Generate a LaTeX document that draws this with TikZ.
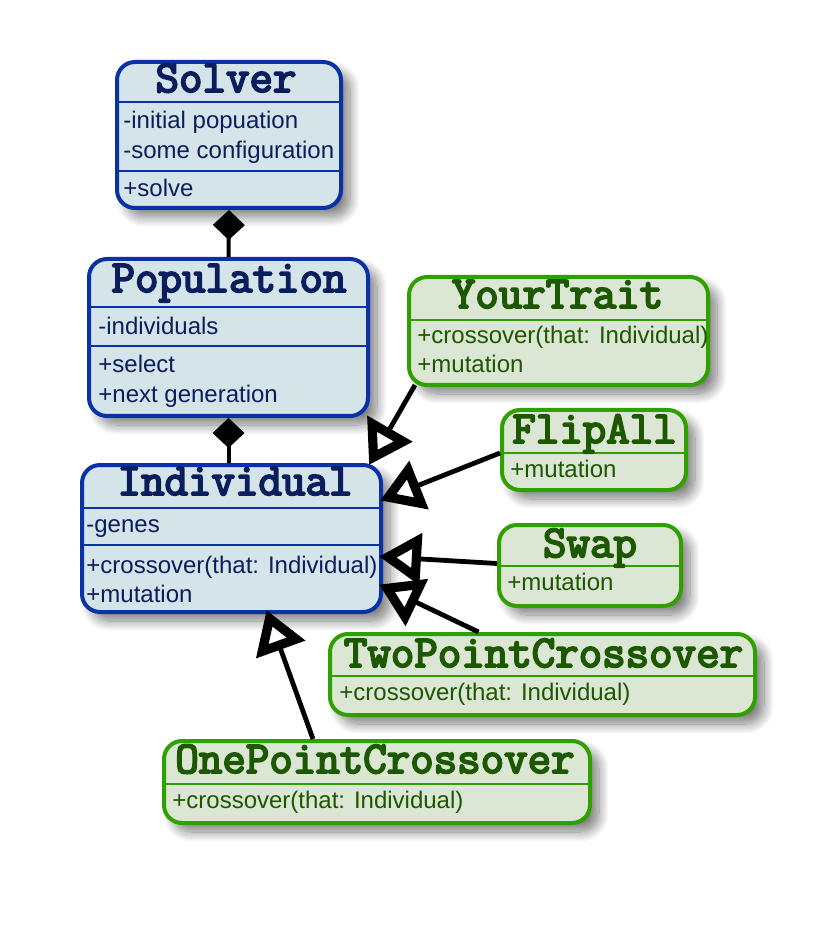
\documentclass[tikz,border=0pt]{standalone}
\usepackage{fontspec}
\setmainfont{Liberation Sans}
\newfontfamily\umlmono{Latin Modern Mono}[FakeBold=4.2]
\usepackage{xcolor}
\usepackage{tikz}
\usetikzlibrary{arrows.meta,shadows.blur}

\definecolor{clsline}{HTML}{0A32A8}
\definecolor{clsfill}{HTML}{D4E4E8}
\definecolor{clstext}{HTML}{0A1E5E}
\definecolor{trline}{HTML}{30A000}
\definecolor{trfill}{HTML}{DCE6D4}
\definecolor{trtext}{HTML}{1C5800}

\tikzset{
  cls/.style={draw=clsline,fill=clsfill,line width=2pt,rounded corners=9pt,inner sep=0pt,
    blur shadow={shadow xshift=4.5pt,shadow yshift=-4.5pt,shadow blur radius=5pt,shadow blur steps=12,shadow opacity=50}},
  trait/.style={cls,draw=trline,fill=trfill},
  ctitle/.style={anchor=base,inner sep=0pt,text=clstext,font=\umlmono\fontsize{22.8}{26}\selectfont},
  ttitle/.style={ctitle,text=trtext},
  cmember/.style={anchor=base west,inner sep=0pt,text=clstext,font=\fontsize{12}{14}\selectfont},
  tmember/.style={cmember,text=trtext},
  csep/.style={draw=clsline,line width=1pt},
  tsep/.style={draw=trline,line width=1pt},
  inherit/.style={line width=2.4pt,-{Triangle[length=21pt,width=25pt,line width=4.6pt,fill=white]}},
  compose/.style={line width=2pt,-{Diamond[length=15pt,width=16pt]}},
}

\begin{document}
\begin{tikzpicture}[x=0.5pt,y=-0.5pt]
\useasboundingbox (0,0) rectangle (825,929);

% blue classes
\node[cls,minimum width=112pt,minimum height=73pt] (solver) at (229,135) {};
\draw[csep] (solver.west |- 0,102) -- (solver.east |- 0,102);
\draw[csep] (solver.west |- 0,171) -- (solver.east |- 0,171);
\node[ctitle] (solver-t) at (226,92) {Solver};
\node[cmember] (solver-a1) at (123,129) {-initial popuation};
\node[cmember] (solver-a2) at (123,159) {-some configuration};
\node[cmember] (solver-m1) at (123,197) {+solve};

\node[cls,minimum width=139.5pt,minimum height=78.5pt] (population) at (228.5,337.5) {};
\draw[csep] (population.west |- 0,307) -- (population.east |- 0,307);
\draw[csep] (population.west |- 0,346) -- (population.east |- 0,346);
\node[ctitle] (population-t) at (229,292) {Population};
\node[cmember] (population-a1) at (98,335) {-individuals};
\node[cmember] (population-m1) at (98,373) {+select};
\node[cmember] (population-m2) at (98,403) {+next generation};

\node[cls,minimum width=149.5pt,minimum height=73.5pt] (indiv) at (231.5,538.5) {};
\draw[csep] (indiv.west |- 0,508) -- (indiv.east |- 0,508);
\draw[csep] (indiv.west |- 0,545) -- (indiv.east |- 0,545);
\node[ctitle] (indiv-t) at (235,495) {Individual};
\node[cmember] (indiv-a1) at (86,532) {-genes};
\node[cmember] (indiv-m1) at (86,573) {+crossover(that: Individual)};
\node[cmember] (indiv-m2) at (86,602) {+mutation};

% green traits
\node[trait,minimum width=149.5pt,minimum height=54pt] (yourtrait) at (558.5,331) {};
\draw[tsep] (yourtrait.west |- 0,320) -- (yourtrait.east |- 0,320);
\node[ttitle] (yourtrait-t) at (557.5,308) {YourTrait};
\node[tmember] (yourtrait-m1) at (417,344) {+crossover(that: Individual)};
\node[tmember] (yourtrait-m2) at (417,373) {+mutation};

\node[trait,minimum width=92pt,minimum height=40pt] (flipall) at (594,450) {};
\draw[tsep] (flipall.west |- 0,453) -- (flipall.east |- 0,453);
\node[ttitle] (flipall-t) at (594.5,443) {FlipAll};
\node[tmember] (flipall-m1) at (510,477) {+mutation};

\node[trait,minimum width=91pt,minimum height=40.5pt] (swap) at (590,565.5) {};
\draw[tsep] (swap.west |- 0,566) -- (swap.east |- 0,566);
\node[ttitle] (swap-t) at (590,557) {Swap};
\node[tmember] (swap-m1) at (507,590) {+mutation};

\node[trait,minimum width=212.5pt,minimum height=40.5pt] (twopoint) at (542.5,674.5) {};
\draw[tsep] (twopoint.west |- 0,676) -- (twopoint.east |- 0,676);
\node[ttitle] (twopoint-t) at (543.5,667) {TwoPointCrossover};
\node[tmember] (twopoint-m1) at (339,700) {+crossover(that: Individual)};

\node[trait,minimum width=213pt,minimum height=41pt] (onepoint) at (377,782) {};
\draw[tsep] (onepoint.west |- 0,784) -- (onepoint.east |- 0,784);
\node[ttitle] (onepoint-t) at (375,773) {OnePointCrossover};
\node[tmember] (onepoint-m1) at (172,808) {+crossover(that: Individual)};

% composition
\draw[compose] (population.north) -- (solver.south);
\draw[compose] (population.south |- indiv.north) -- (population.south);

% inheritance
\draw[inherit] ([xshift=4pt,yshift=1pt]yourtrait.south west) -- ([xshift=-7pt,yshift=-1pt]indiv.north east);
\draw[inherit] ([yshift=-1.5pt]flipall.west) -- ([xshift=-1.5pt,yshift=19pt]indiv.east);
\draw[inherit] ([yshift=1pt]swap.west) -- ([xshift=-2pt,yshift=-9pt]indiv.east);
\draw[inherit] ([xshift=-32pt]twopoint.north) -- ([xshift=-2pt,yshift=-23pt]indiv.east);
\draw[inherit] ([xshift=-32pt]onepoint.north) -- ([xshift=17.5pt,yshift=2pt]indiv.south);
\end{tikzpicture}
\end{document}
